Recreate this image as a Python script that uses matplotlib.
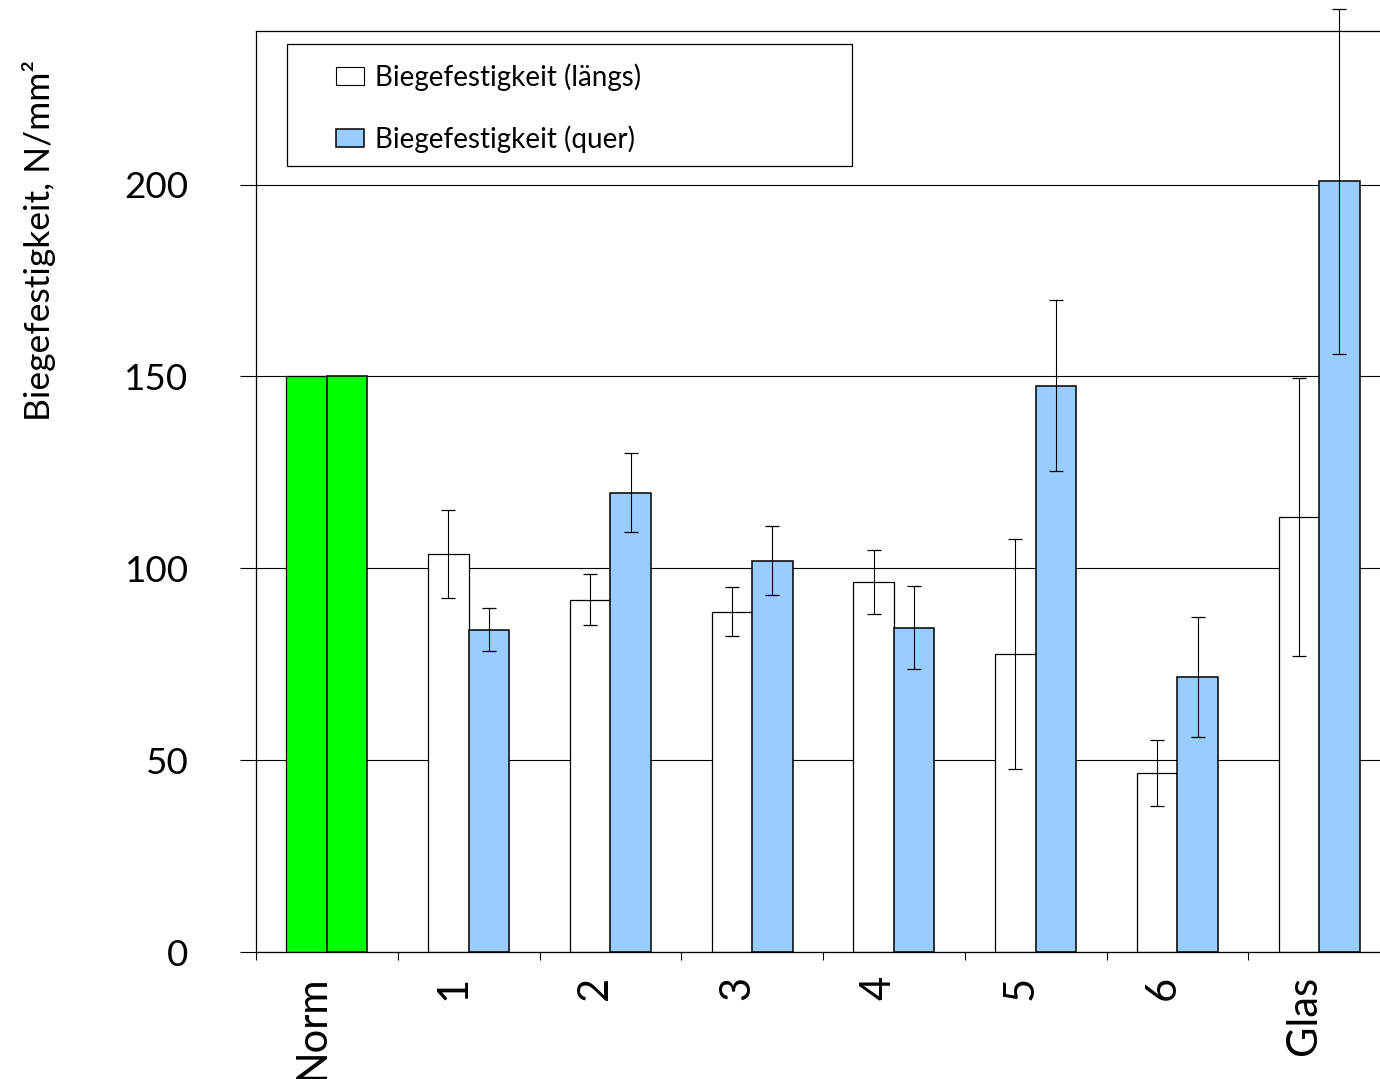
import numpy as np
import matplotlib
matplotlib.use("Agg")
import matplotlib.pyplot as plt
from matplotlib.patches import Rectangle, Patch
from matplotlib.transforms import ScaledTranslation

plt.rcParams["font.family"] = ["Lato", "DejaVu Sans"]

# Daten
categories = ["Norm", "1", "2", "3", "4", "5", "6", "Glas"]
laengs = [150, 103.8, 91.8, 88.7, 96.5, 77.7, 46.7, 113.4]
laengs_err = [0, 11.5, 6.7, 6.4, 8.3, 30.0, 8.6, 36.2]
quer = [150, 84.0, 119.7, 102.0, 84.5, 147.6, 71.7, 200.8]
quer_err = [0, 5.6, 10.3, 9.0, 10.8, 22.3, 15.6, 45.0]

x = np.arange(len(categories))
width = 0.286

fig = plt.figure(figsize=(13.8, 10.79), dpi=100)
ax = fig.add_axes([256 / 1380, 127 / 1079, 1134 / 1380, 921 / 1079])

col_l = ["#00ff00"] + ["white"] * (len(categories) - 1)
col_q = ["#00ff00"] + ["#99ccff"] * (len(categories) - 1)
ekw = dict(ecolor="black", elinewidth=0.8, capsize=5, capthick=0.9)

ax.bar(x - width / 2, laengs, width, color=col_l, edgecolor="black", linewidth=0.9, zorder=2)
ax.bar(x + width / 2, quer, width, color=col_q, edgecolor="black", linewidth=1.1, zorder=2)
for xs, ys, es in [(x[1:] - width / 2, laengs[1:], laengs_err[1:]),
                   (x[1:] + width / 2, quer[1:], quer_err[1:])]:
    eb = ax.errorbar(xs, ys, yerr=es, fmt="none", zorder=3, **ekw)
    for art in eb.lines[1] + eb.lines[2]:
        art.set_clip_on(False)

ax.set_xlim(-0.5, len(categories) - 0.5)
ax.set_ylim(0, 240)
ax.set_yticks([0, 50, 100, 150, 200])
ax.yaxis.grid(True, color="black", linewidth=0.8, zorder=0)
ax.set_axisbelow(True)
ax.tick_params(axis="y", direction="out", length=11.5, width=0.8, labelsize=26.5, pad=37)

ax.set_xticks(x)
ax.set_xticklabels(categories, rotation=90, fontsize=30, va="top")
ax.tick_params(axis="x", which="major", length=0, pad=17)
ax.set_xticks(np.arange(-0.5, len(categories)), minor=True)
ax.tick_params(axis="x", which="minor", direction="out", length=6, width=0.8)
shift = ScaledTranslation(-15 / 100, 0, fig.dpi_scale_trans)
for lab in ax.get_xticklabels():
    lab.set_transform(lab.get_transform() + shift)

for s in ax.spines.values():
    s.set_linewidth(0.9)

ax.set_ylabel("Biegefestigkeit, N/mm²", fontsize=25.5)
ax.yaxis.set_label_coords(-(256 - 56) / 1134, (952 - 240) / 921)

# Legende mit eigenem Rahmen
fx = lambda px: (px - 256) / 1134
fy = lambda py: (952 - py) / 921
ax.add_patch(Rectangle((fx(287), fy(166)), fx(852) - fx(287), fy(44) - fy(166),
                       transform=ax.transAxes, facecolor="white", edgecolor="black",
                       linewidth=0.9, zorder=4))
handles = [Patch(facecolor="white", edgecolor="black", linewidth=0.8),
           Patch(facecolor="#99ccff", edgecolor="black", linewidth=1.1)]
leg = ax.legend(handles, ["Biegefestigkeit (längs)", "Biegefestigkeit (quer)"],
                loc="center left", bbox_to_anchor=(fx(336), fy(108)), frameon=False,
                fontsize=20, handlelength=1.0, handleheight=0.6, handletextpad=0.42,
                labelspacing=1.25, borderpad=0, borderaxespad=0)
leg.set_zorder(5)

fig.savefig("out.png", dpi=100)
